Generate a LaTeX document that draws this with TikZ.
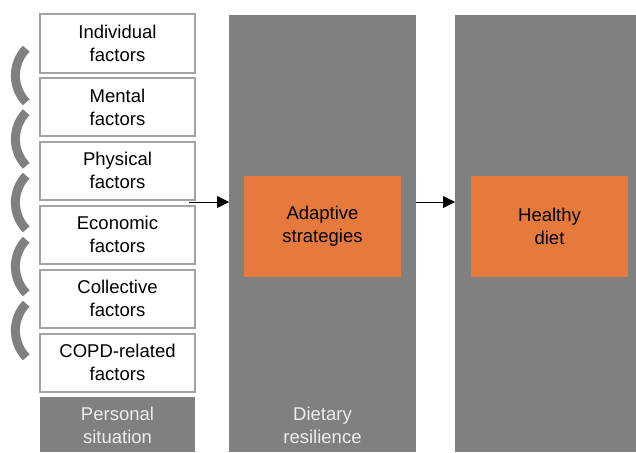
\documentclass[tikz,border=0pt]{standalone}
\usepackage{fontspec}
\setmainfont{Liberation Sans}
\usetikzlibrary{arrows.meta}
\definecolor{colgray}{HTML}{808080}
\definecolor{boxborder}{HTML}{A3A3A3}
\definecolor{orng}{HTML}{E67A3C}
\definecolor{lighttext}{HTML}{EDEDED}
\begin{document}
\begin{tikzpicture}[x=1pt,y=-1pt,
  txt/.style={font=\fontsize{18.5}{23}\selectfont, align=center},
  factor/.style={txt, draw=boxborder, line width=2pt, fill=white, minimum width=155pt, minimum height=58pt, inner sep=0pt},
  column/.style={fill=colgray, draw=none},
  label/.style={txt, text=lighttext},
  orbox/.style={txt, fill=orng, minimum width=157pt, minimum height=101pt, inner sep=0pt},
  bracket/.style={draw=colgray, line width=9pt},
  arr/.style={-{Triangle[length=12pt,width=12pt]}, line width=1pt, black}
]
\useasboundingbox (0,0) rectangle (636,452);
\begin{scope}
\clip (0,0) rectangle (636,452);
% columns
\node[column, minimum width=155pt, minimum height=55pt, inner sep=0pt, anchor=north west] (pers) at (40,397) {};
\node[label] (perstxt) at (117.5,425) {Personal\\situation};
\node[column, minimum width=187pt, minimum height=437pt, inner sep=0pt, anchor=north west] (mid) at (229,15) {};
\node[label] (midtxt) at (322.5,425) {Dietary\\resilience};
\node[column, minimum width=190pt, minimum height=437pt, inner sep=0pt, anchor=north west] (right) at (455,15) {};
\end{scope}
% factor boxes
\node[factor] (f1) at (117.5,43.5) {Individual\\factors};
\node[factor] (f2) at (117.5,107) {Mental\\factors};
\node[factor] (f3) at (117.5,170.5) {Physical\\factors};
\node[factor] (f4) at (117.5,234.5) {Economic\\factors};
\node[factor] (f5) at (117.5,298.5) {Collective\\factors};
\node[factor] (f6) at (117.5,362.5) {COPD-related\\factors};
% brackets
\foreach \yy in {75.5,139,202.5,266.5,330.5}{
  \draw[bracket] ([shift={(136:38.6)}]54,\yy) arc[start angle=136, end angle=224, radius=38.6];
}
% orange boxes
\node[orbox] (adapt) at (322.5,226.5) {Adaptive\\strategies};
\node[orbox] (healthy) at (549.5,226.5) {Healthy\\diet};
% arrows
\coordinate (a1s) at (189,202);
\coordinate (a1e) at (229,202);
\coordinate (a2s) at (416,202);
\coordinate (a2e) at (455,202);
\draw[arr] (a1s) -- (a1e);
\draw[arr] (a2s) -- (a2e);
\end{tikzpicture}
\end{document}
